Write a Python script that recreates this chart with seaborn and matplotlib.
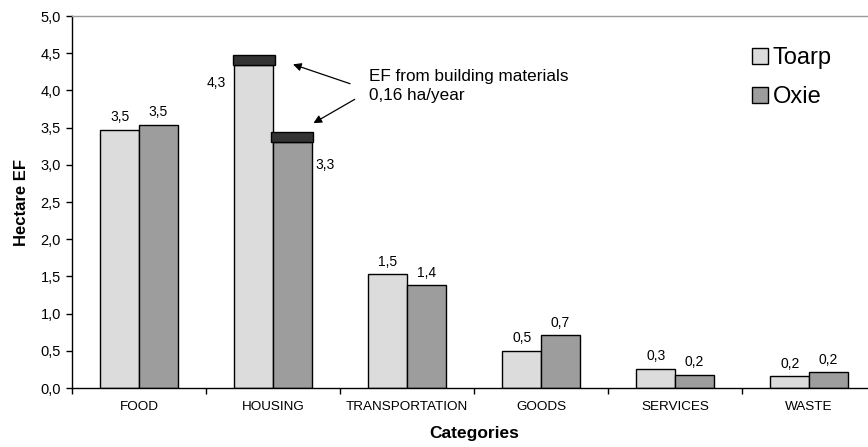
import pandas as pd
import seaborn as sns
import matplotlib.pyplot as plt
from matplotlib.ticker import FixedLocator, FuncFormatter

sns.set_theme(style="ticks")
plt.rcParams['font.family'] = ['Liberation Sans', 'DejaVu Sans']
plt.rcParams['text.color'] = 'black'

categories = ["FOOD", "HOUSING", "TRANSPORTATION", "GOODS", "SERVICES", "WASTE"]
toarp = [3.47, 4.34, 1.53, 0.50, 0.26, 0.16]
oxie = [3.54, 3.31, 1.38, 0.71, 0.18, 0.21]
building_cap = [0.13, 0.13]  # EF from building materials on HOUSING (Toarp, Oxie)
sites = ["Toarp", "Oxie"]
colors = {"Toarp": "#dcdcdc", "Oxie": "#9d9d9d"}

df = pd.DataFrame({
    "category": categories * 2,
    "value": toarp + oxie,
    "site": [sites[0]] * len(categories) + [sites[1]] * len(categories),
})


def fmt(v):
    return f"{v:.1f}".replace(".", ",")


fig = plt.figure(figsize=(8.68, 4.47), dpi=100)
ax = fig.add_axes([72 / 868, 59 / 447, 804 / 868, 372 / 447])
sns.barplot(data=df, x="category", y="value", hue="site", hue_order=sites,
            palette=colors, width=0.575, gap=0, saturation=1, errorbar=None,
            edgecolor="black", linewidth=1, ax=ax)

# dark caps on top of the housing bars
caps = []
for cont, h in zip(ax.containers[:2], building_cap):
    p = cont.patches[1]
    cx = p.get_x() + p.get_width() / 2
    r = ax.bar(cx, h, bottom=p.get_height(), width=p.get_width() * 1.1,
               color="#333333", edgecolor="black", linewidth=1)
    caps.append(r.patches[0])

# value labels
for k, cont in enumerate(ax.containers[:2]):
    for i, p in enumerate(cont.patches):
        h = p.get_height()
        if i == 1 and k == 0:
            ax.annotate(fmt(h), (p.get_x(), h), xytext=(-6, -13), textcoords="offset points",
                        ha="right", va="center", fontsize=10)
        elif i == 1 and k == 1:
            ax.annotate(fmt(h), (p.get_x() + p.get_width(), h), xytext=(3, -17),
                        textcoords="offset points", ha="left", va="center", fontsize=10)
        else:
            ax.annotate(fmt(h), (p.get_x() + p.get_width() / 2, h), xytext=(0, 4),
                        textcoords="offset points", ha="center", va="bottom", fontsize=10)

# annotation
ax.text(1.72, 4.06, "EF from building materials\n0,16 ha/year", fontsize=12.3,
        ha="left", va="center", linespacing=1.3)
c0, c1 = caps
ax.annotate("", xy=(c0.get_x() + c0.get_width() + 0.135, c0.get_y() + c0.get_height() / 2 - 0.055),
            xytext=(1.575, 4.09),
            arrowprops=dict(arrowstyle="-|>", color="black", lw=0.9, mutation_scale=12,
                            shrinkA=0, shrinkB=0))
ax.annotate("", xy=(c1.get_x() + c1.get_width(), c1.get_y() + c1.get_height() + 0.12),
            xytext=(1.61, 3.88),
            arrowprops=dict(arrowstyle="-|>", color="black", lw=0.9, mutation_scale=12,
                            shrinkA=0, shrinkB=0))

# axes
ax.set_xlim(-0.5, len(categories) - 0.5)
ax.set_ylim(0, 5)
ax.yaxis.set_major_locator(FixedLocator([i * 0.5 for i in range(11)]))
ax.yaxis.set_major_formatter(FuncFormatter(lambda v, _: fmt(v)))
ax.xaxis.set_minor_locator(FixedLocator([i - 0.5 for i in range(len(categories) + 1)]))
ax.tick_params(axis="x", which="major", length=0, pad=9, labelsize=9.7, colors="black")
ax.tick_params(axis="x", which="minor", length=4, width=1, direction="out", color="black")
ax.tick_params(axis="y", length=4, width=1, direction="out", pad=4, labelsize=10.5, colors="black")

for s in ["left", "bottom"]:
    ax.spines[s].set_color("black")
    ax.spines[s].set_linewidth(1)
ax.spines["top"].set_color("#999999")
ax.spines["top"].set_linewidth(1)
ax.spines["right"].set_visible(False)

ax.set_xlabel("Categories", fontsize=12.5, fontweight="bold", color="black")
ax.set_ylabel("Hectare EF", fontsize=12, fontweight="bold", color="black")
ax.xaxis.set_label_coords(0.5, -0.103)
ax.yaxis.set_label_coords(-0.053, 0.5)

handles, labels = ax.get_legend_handles_labels()
for hd in handles:
    hd.set_edgecolor("black")
ax.legend(handles[:2], labels[:2], loc="upper left", bbox_to_anchor=(752 / 868, 1 - 47 / 447),
          bbox_transform=fig.transFigure, frameon=False, fontsize=17,
          handlelength=0.68, handleheight=0.68, handletextpad=0.2, labelspacing=0.72,
          borderpad=0, borderaxespad=0)

fig.savefig("out.png", dpi=100)
